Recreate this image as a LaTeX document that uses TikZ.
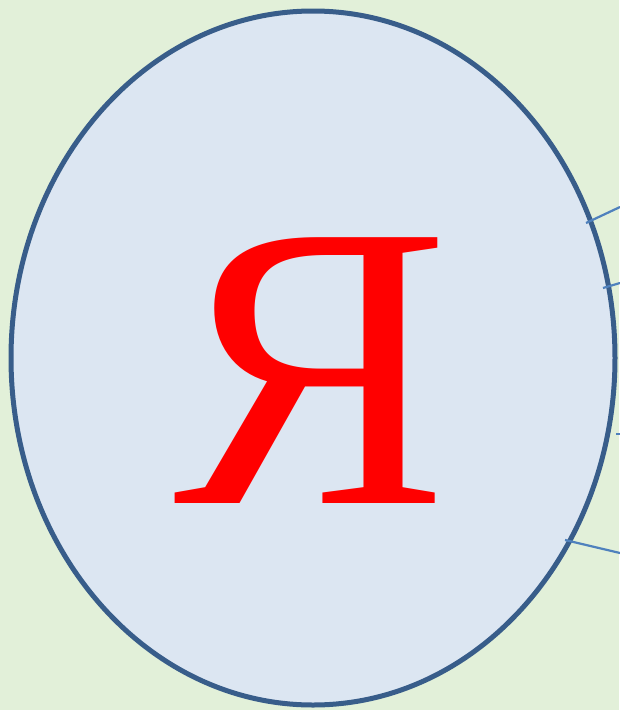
\documentclass[tikz,border=0pt]{standalone}
\usepackage{fontspec}
\newfontfamily\letterfont{Liberation Serif}
\definecolor{bgg}{HTML}{E2F0D9}
\definecolor{ellfill}{HTML}{DCE6F2}
\definecolor{elldraw}{HTML}{385D8A}
\definecolor{linec}{HTML}{4F81BD}
\definecolor{letred}{HTML}{FF0000}
\tikzset{
  ptr/.style={draw=linec, line width=2.2pt},
}
\begin{document}
\begin{tikzpicture}[x=1pt,y=-1pt]
\fill[bgg] (0,0) rectangle (619,710);
\useasboundingbox (0,0) rectangle (619,710);
\draw[elldraw, fill=ellfill, line width=5pt] (313,358) ellipse [x radius=302, y radius=347];
\node[text=letred, inner sep=0pt, anchor=base, xscale=1.02] (ya) at (312,503) {\fontsize{406}{406}\selectfont\letterfont Я};
\coordinate (a1) at (586,223); \coordinate (b1) at (620,207);
\coordinate (a2) at (603,288); \coordinate (b2) at (620,283);
\coordinate (a3) at (616,434); \coordinate (b3) at (620,434);
\coordinate (a4) at (565,540); \coordinate (b4) at (620,553);
\draw[ptr] (a1) -- (b1);
\draw[ptr] (a2) -- (b2);
\draw[ptr] (a3) -- (b3);
\draw[ptr] (a4) -- (b4);
\end{tikzpicture}
\end{document}
